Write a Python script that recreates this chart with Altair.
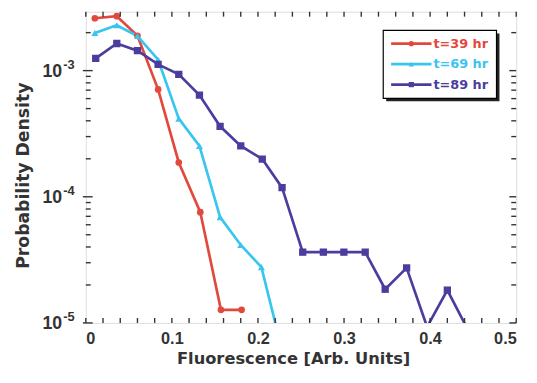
import altair as alt
import pandas as pd

# ---- data ----
series = ["t=39 hr", "t=69 hr", "t=89 hr"]
colors = ["#e2493d", "#38c5f0", "#4b3d9e"]
shapes = ["circle", "triangle-up", "square"]

x39 = [0.0105, 0.0360, 0.0600, 0.0840, 0.1080, 0.1330, 0.1570, 0.1810]
y39 = [2.6e-3, 2.7e-3, 1.89e-3, 7.1e-4, 1.87e-4, 7.55e-5, 1.27e-5, 1.27e-5]

x69 = [0.0105, 0.0360, 0.0600, 0.0840, 0.1080, 0.1320, 0.1560, 0.1800, 0.2040, 0.2280]
y69 = [1.99e-3, 2.29e-3, 1.88e-3, 1.22e-3, 4.16e-4, 2.53e-4, 6.9e-5, 4.15e-5, 2.77e-5, 6.1e-6]

x89 = [0.0115, 0.0360, 0.0600, 0.0840, 0.1080, 0.1320, 0.1560, 0.1800, 0.2050, 0.2280,
       0.2520, 0.2760, 0.2998, 0.3246, 0.3478, 0.3727, 0.3965, 0.4200, 0.4440]
y89 = [1.25e-3, 1.64e-3, 1.44e-3, 1.12e-3, 9.33e-4, 6.4e-4, 3.62e-4, 2.53e-4, 1.99e-4, 1.18e-4,
       3.64e-5, 3.64e-5, 3.64e-5, 3.64e-5, 1.85e-5, 2.73e-5, 9.3e-6, 1.82e-5, 8.8e-6]

x_labels = [0, 0.1, 0.2, 0.3, 0.4, 0.5]
x_minor = [0.02 * i for i in range(26)]
y_major = [1e-5, 1e-4, 1e-3]
y_exponents = ["-5", "-4", "-3"]
y_minor = [m * 10.0 ** e for e in (-5, -4, -3) for m in range(2, 10) if m * 10.0 ** e < 2.93e-3]

X_DOMAIN = [0, 0.5]
Y_DOMAIN = [1e-5, 2.93e-3]
PL, PT = 79, 1
W, H = 437, 316
TOTAL_W, TOTAL_H = 529, 361
INK = "#333333"

rows = []
for name, xs, ys in zip(series, [x39, x69, x89], [y39, y69, y89]):
    for a, b in zip(xs, ys):
        rows.append({"series": name, "x": a, "y": b})
df = pd.DataFrame(rows)

xs_ = alt.Scale(domain=X_DOMAIN, nice=False, zero=False)
ys_ = alt.Scale(type="log", domain=Y_DOMAIN, nice=False)
cs_ = alt.Scale(domain=series, range=colors)
ss_ = alt.Scale(domain=series, range=shapes)
sz_ = alt.Scale(domain=series, range=[46, 55, 36])

x_axis = alt.Axis(values=x_labels, format="~g", ticks=False, domain=False, grid=False,
                  labelFont="Liberation Sans", labelFontWeight="bold", labelFontSize=16.5,
                  labelColor=INK, labelPadding=8,
                  title="Fluorescence [Arb. Units]", titleFont="DejaVu Sans",
                  titleFontWeight="bold", titleFontSize=16.5, titleColor=INK, titlePadding=4,
                  titleX=W / 2 - 8)
y_axis = alt.Axis(labels=False, ticks=False, domain=False, grid=False,
                  title="Probability Density", titleFont="DejaVu Sans",
                  titleFontWeight="bold", titleFontSize=17.5, titleColor=INK, titlePadding=54,
                  titleY=H / 2 + 8)

base = alt.Chart(df)
lines = base.mark_line(strokeWidth=2.7, clip=True).encode(
    x=alt.X("x:Q", scale=xs_, axis=x_axis),
    y=alt.Y("y:Q", scale=ys_, axis=y_axis),
    color=alt.Color("series:N", scale=cs_, legend=None),
)
points = base.mark_point(filled=True, opacity=1, clip=True).encode(
    x=alt.X("x:Q", scale=xs_),
    y=alt.Y("y:Q", scale=ys_),
    color=alt.Color("series:N", scale=cs_, legend=None),
    shape=alt.Shape("series:N", scale=ss_, legend=None),
    size=alt.Size("series:N", scale=sz_, legend=None),
)

# inward ticks (MATLAB style)
xt = pd.DataFrame({"v": x_minor})
ytmin = pd.DataFrame({"v": y_minor})
ytmaj = pd.DataFrame({"v": y_major})
tick_style = dict(color=INK, strokeWidth=1.4)
xb = alt.Chart(xt).mark_rule(**tick_style).encode(
    x=alt.X("v:Q", scale=xs_), y=alt.value(H), y2=alt.value(H - 5))
xtp = alt.Chart(xt).mark_rule(**tick_style).encode(
    x=alt.X("v:Q", scale=xs_), y=alt.value(0), y2=alt.value(5))
ylmin = alt.Chart(ytmin).mark_rule(**tick_style).encode(
    y=alt.Y("v:Q", scale=ys_), x=alt.value(0), x2=alt.value(5))
yrmin = alt.Chart(ytmin).mark_rule(**tick_style).encode(
    y=alt.Y("v:Q", scale=ys_), x=alt.value(W), x2=alt.value(W - 5))
ylmaj = alt.Chart(ytmaj).mark_rule(**tick_style).encode(
    y=alt.Y("v:Q", scale=ys_), x=alt.value(-3), x2=alt.value(7))
yrmaj = alt.Chart(ytmaj).mark_rule(**tick_style).encode(
    y=alt.Y("v:Q", scale=ys_), x=alt.value(W), x2=alt.value(W - 7))

# y tick labels 10^n
ylab = pd.DataFrame({"v": y_major, "exp": y_exponents})
ten = alt.Chart(ylab).mark_text(align="right", baseline="middle", font="Liberation Sans",
                                fontWeight="bold", fontSize=18, color=INK, dy=1).encode(
    y=alt.Y("v:Q", scale=ys_), x=alt.value(-24), text=alt.value("10"))
expo = alt.Chart(ylab).mark_text(align="left", baseline="middle", font="Liberation Sans",
                                 fontWeight="bold", fontSize=13, color=INK, dy=-6).encode(
    y=alt.Y("v:Q", scale=ys_), x=alt.value(-23), text="exp:N")

main = alt.layer(lines, points, xb, xtp, ylmin, yrmin, ylmaj, yrmaj, ten, expo)

# legend box
BX0, BX1 = W - 135, W - 20
one = pd.DataFrame({"a": [0]})
shadow = alt.Chart(one).mark_rect(color="#222222").encode(
    x=alt.value(BX0 + 3), x2=alt.value(BX1 + 3), y=alt.value(22), y2=alt.value(91))
box = alt.Chart(one).mark_rect(fill="white", stroke="black", strokeWidth=1.2).encode(
    x=alt.value(BX0), x2=alt.value(BX1), y=alt.value(19), y2=alt.value(88))
leg = pd.DataFrame({"series": series})
ly = alt.Y("series:N", scale=alt.Scale(type="point", domain=series, range=[32.5, 74], padding=0), axis=None)
lrule = alt.Chart(leg).mark_rule(strokeWidth=2.8).encode(
    x=alt.value(BX0 + 8), x2=alt.value(BX0 + 49), y=ly,
    color=alt.Color("series:N", scale=cs_, legend=None))
lpt = alt.Chart(leg).mark_point(filled=True, opacity=1).encode(
    x=alt.value(BX0 + 28.5), y=ly,
    color=alt.Color("series:N", scale=cs_, legend=None),
    shape=alt.Shape("series:N", scale=ss_, legend=None),
    size=alt.value(28))
ltxt = alt.Chart(leg).mark_text(align="left", baseline="middle", font="DejaVu Sans",
                                fontWeight="bold", fontSize=13).encode(
    x=alt.value(BX0 + 51), y=ly, text="series:N",
    color=alt.Color("series:N", scale=cs_, legend=None))
legend = alt.layer(shadow, box, lrule, lpt, ltxt)

chart = alt.layer(main, legend).resolve_scale(
    y="independent", x="independent"
).properties(
    width=W, height=H,
    autosize=alt.AutoSizeParams(type="none"),
    padding={"left": PL, "top": PT, "right": TOTAL_W - PL - W, "bottom": TOTAL_H - PT - H},
).configure_view(stroke=INK, strokeWidth=1.5).configure(background="white")

chart.save("out.html", embed_options={"renderer": "svg", "actions": False})
